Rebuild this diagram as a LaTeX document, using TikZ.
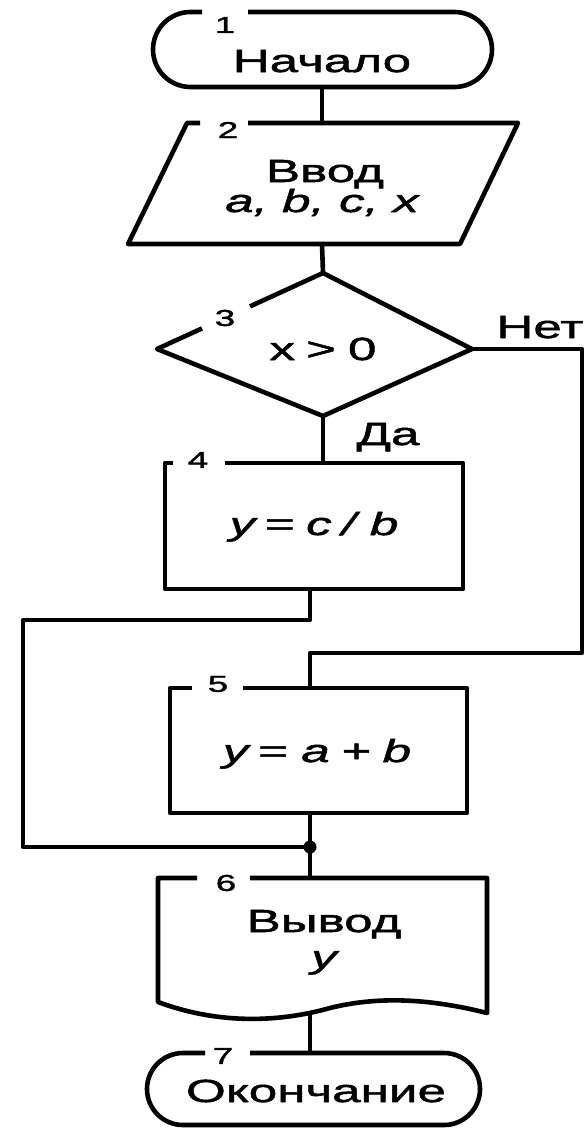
\documentclass[tikz,border=0pt]{standalone}
\usepackage{fontspec}
\newfontfamily\wf[FakeStretch=1.6,FakeBold=1.6]{Liberation Sans}
\begin{document}
\begin{tikzpicture}[x=1pt,y=-1pt,
  line join=round,
  shp/.style={line width=4.6pt},
  con/.style={line width=4.6pt},
  txt/.style={font=\fontsize{32}{36}\selectfont\wf, inner sep=0pt, anchor=base},
  itx/.style={font=\fontsize{32}{36}\selectfont\wf\itshape, inner sep=0pt, anchor=base},
  num/.style={font=\fontsize{23}{26}\selectfont\wf, inner sep=0pt}]
\useasboundingbox (0,0) rectangle (586,1128);
% ---- 1 terminal
\draw[shp, rounded corners=37.5pt] (248,12) -- (492,12) -- (492,87) -- (153,87) -- (153,12) -- (202,12);
\coordinate (t1s) at (322,87);
\node[num] (n1) at (225,25) {1};
\node[txt] (t1) at (322,72) {Начало};
% ---- 2 input
\draw[shp] (248,123) -- (518,123) -- (460,244) -- (128,244) -- (187,123) -- (200,123);
\coordinate (p2n) at (322,123);
\coordinate (p2s) at (322,244);
\node[num] (n2) at (228,130) {2};
\node[txt] (p2a) at (325,182) {Ввод};
\node[itx] (p2b) at (322,212) {a, b, c, x};
% ---- 3 decision
\draw[shp] (250,306.4) -- (323,273) -- (472,349) -- (323,416) -- (157,349) -- (202,328.4);
\coordinate (d3n) at (323,273);
\coordinate (d3s) at (323,416);
\coordinate (d3e) at (472,349);
\node[num] (n3) at (225,318) {3};
\node[txt] (d3) at (323,360) {x\hspace{11pt}>\hspace{12pt}0};
\node[txt] (no) at (540,338) {Нет};
\node[txt] (yes) at (388,445) {Да};
% ---- 4 process
\draw[shp] (225,463) -- (463,463) -- (463,589) -- (165,589) -- (165,463) -- (173,463);
\coordinate (b4n) at (323,463);
\coordinate (b4s) at (310,589);
\node[num] (n4) at (198,460) {4};
\node[itx] (b4) at (314,535) {y\hspace{9pt}=\hspace{12pt}c\hspace{10pt}/\hspace{14pt}b};
% ---- 5 process
\draw[shp] (243,688) -- (467,688) -- (467,813) -- (170,813) -- (170,688) -- (192,688);
\coordinate (b5n) at (310,688);
\coordinate (b5s) at (310,813);
\node[num] (n5) at (218,684) {5};
\node[itx] (b5) at (317,762) {y\hspace{9pt}=\hspace{14pt}a\hspace{11pt}+\hspace{12pt}b};
% ---- 6 document
\draw[shp] (250,878) -- (487,878) -- (487,1013)
  .. controls (420,996) and (370,998) .. (330,1008)
  .. controls (280,1022) and (220,1025) .. (158,1002) -- (158,878) -- (197,878);
\coordinate (o6n) at (310,878);
\coordinate (o6s) at (310,1012);
\node[num] (n6) at (226,883) {6};
\node[txt] (o6a) at (324,932) {Вывод};
\node[itx] (o6b) at (324,968) {y};
% ---- 7 terminal
\draw[shp, rounded corners=36pt] (250,1053) -- (480,1053) -- (480,1125) -- (147,1125) -- (147,1053) -- (205,1053);
\coordinate (t7n) at (310,1053);
\node[num] (n7) at (223,1056) {7};
\node[txt] (t7) at (316,1102) {Окончание};
% ---- routing points
\coordinate (r1) at (582,349);
\coordinate (r2) at (582,653);
\coordinate (r3) at (310,653);
\coordinate (l1) at (310,620);
\coordinate (l2) at (23,620);
\coordinate (l3) at (23,847);
\coordinate (j) at (310,847);
% ---- connectors
\draw[con] (t1s) -- (p2n);
\draw[con] (p2s) -- (d3n);
\draw[con] (d3s) -- (b4n);
\draw[con] (d3e) -- (r1) -- (r2) -- (r3) -- (b5n);
\draw[con] (b4s) -- (l1) -- (l2) -- (l3) -- (j);
\draw[con] (b5s) -- (o6n);
\draw[con] (o6s) -- (t7n);
\fill (j) circle (6.5);
\end{tikzpicture}
\end{document}
